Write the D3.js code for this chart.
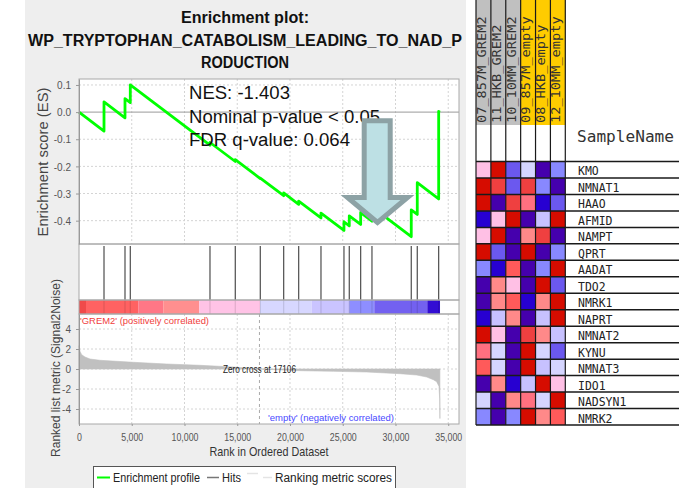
<!DOCTYPE html>
<html><head><meta charset="utf-8">
<script src="https://cdn.jsdelivr.net/npm/d3@7"></script>
<style>body{margin:0;background:#fff} svg{display:block}</style>
</head><body>
<svg id="c" width="679" height="488"></svg>
<script>
// ---------------- data ----------------
const titleLines = ["Enrichment plot:", "WP_TRYPTOPHAN_CATABOLISM_LEADING_TO_NAD_P", "RODUCTION"];
const statLines = ["NES: -1.403", "Nominal p-value < 0.05", "FDR q-value: 0.064"];
const hitRanks = [2370,4360,4862,12416,14814,17184,19402,20824,22937,25116,25619,26699,27770,31495,32064,34093];
const esBefore = [-0.070,-0.021,0.035,-0.122,-0.182,-0.245,-0.308,-0.340,-0.390,-0.436,-0.419,-0.414,-0.402,-0.459,-0.377,-0.320];
const esAfter  = [0.038,0.050,0.100,-0.112,-0.175,-0.243,-0.298,-0.328,-0.372,-0.404,-0.382,-0.370,-0.349,-0.360,-0.260,0.003];
const datasetSize = 34210;
const esTicks = [0.1,0.0,-0.1,-0.2,-0.3,-0.4];
const rankTicks = [0,5000,10000,15000,20000,25000,30000,35000];
const metricTicks = [4,2,0,-2,-4];
const metricRanks  = [0,95,253,569,1043,1991,5150,8310,11470,14630,17106,20950,24110,27270,30430,32010,32960,33590,33900,34120,34190,34210];
const metricValues = [2.33,1.77,1.43,1.2,1.0,0.87,0.67,0.5,0.37,0.2,0,-0.17,-0.23,-0.3,-0.47,-0.6,-0.8,-1.07,-1.27,-1.73,-3.0,-4.95];
const zeroCross = 17106;
const barStarts = [0,664,5621,7991,11403,17157,22058,25622,27991,33016];
const barEnd = 34220;
const barLevels = [10,9,8,7,6,5,4,3,2,1];
const palette = ["#4500ad","#2700d1","#6b58ef","#8888ff","#c7c1ff","#d5d5ff","#ffc0e5","#ff8989","#ff7080","#ff5a5a","#ef4040","#d60c00"];
const samples = ["07_857M_GREM2","11_HKB_GREM2","10_10MM_GREM2","09_857M_empty","08_HKB_empty","12_10MM_empty"];
const sampleGroups = ["GREM2","GREM2","GREM2","empty","empty","empty"];
const genes = ["KMO","NMNAT1","HAAO","AFMID","NAMPT","QPRT","AADAT","TDO2","NMRK1","NAPRT","NMNAT2","KYNU","NMNAT3","IDO1","NADSYN1","NMRK2"];
const heat = [
  [6,11,2,5,0,3],
  [11,10,2,10,3,0],
  [11,0,10,8,1,2],
  [1,6,11,0,4,11],
  [6,11,0,7,10,0],
  [11,2,0,11,0,3],
  [3,1,9,0,3,11],
  [0,7,6,0,11,2],
  [0,7,9,1,7,11],
  [1,4,7,0,4,11],
  [11,6,0,10,7,4],
  [8,5,0,11,5,2],
  [9,5,0,11,4,5],
  [0,7,1,4,11,6],
  [5,0,7,8,5,11],
  [3,0,3,11,7,9]
];
const legendItems = ["Enrichment profile","Hits","Ranking metric scores"];

// ---------------- drawing ----------------
const svg = d3.select("#c");
const SANS = "'Liberation Sans', Arial, sans-serif";
const MONO = "'DejaVu Sans Mono', monospace";
function fit(sel, len){ sel.attr("textLength", len).attr("lengthAdjust","spacingAndGlyphs"); return sel; }
function squeeze(sel, f){ sel.each(function(){ const l=this.getComputedTextLength(); d3.select(this).attr("textLength", l*f).attr("lengthAdjust","spacingAndGlyphs"); }); }

svg.append("rect").attr("x",25).attr("y",0).attr("width",441).attr("height",488).attr("fill","#eeeeee");

const x = d3.scaleLinear().domain([0,36020]).range([79,459]);
const yES = d3.scaleLinear().domain([-0.486,0.122]).range([244,79]);
const yM = d3.scaleLinear().domain([-5.5,5.5]).range([424,314]);
const L = 79, R = 459;

// title
const titleY = [23,46,68], titleLen = [128,434,88];
titleLines.forEach((t,i)=>{
  fit(svg.append("text").attr("x",245).attr("y",titleY[i]).attr("text-anchor","middle")
    .attr("font-family",SANS).attr("font-weight","bold").attr("font-size",16).attr("fill","#111").text(t), titleLen[i]);
});

// panel backgrounds
svg.append("rect").attr("x",L).attr("y",79).attr("width",R-L).attr("height",345).attr("fill","#fff");

// grid
const grid = svg.append("g").attr("stroke","#d4d4d4").attr("stroke-dasharray","2,2").attr("stroke-width",1);
rankTicks.filter(d=>d>0).forEach(d=>{
  grid.append("line").attr("x1",x(d)).attr("x2",x(d)).attr("y1",79).attr("y2",244);
  grid.append("line").attr("x1",x(d)).attr("x2",x(d)).attr("y1",314).attr("y2",424);
});
esTicks.filter(d=>d!==0).forEach(d=>{
  grid.append("line").attr("x1",L).attr("x2",R).attr("y1",yES(d)).attr("y2",yES(d));
});
metricTicks.forEach(d=>{
  grid.append("line").attr("x1",L).attr("x2",R).attr("y1",yM(d)).attr("y2",yM(d));
});
svg.append("line").attr("x1",L).attr("x2",R).attr("y1",yES(0)).attr("y2",yES(0)).attr("stroke","#999").attr("stroke-width",1);

// ranking metric area
const area = d3.area().x((d,i)=>x(metricRanks[i])).y0(yM(0)).y1((d,i)=>yM(d));
svg.append("path").datum(metricValues).attr("d",area).attr("fill","#c0c0c0").attr("stroke","#c0c0c0").attr("stroke-width",0.6);

// zero cross
svg.append("line").attr("x1",x(zeroCross)).attr("x2",x(zeroCross)).attr("y1",314).attr("y2",424)
  .attr("stroke","#aaa").attr("stroke-dasharray","3,3");
fit(svg.append("text").attr("x",x(zeroCross)).attr("y",372.5).attr("text-anchor","middle").attr("font-family",SANS)
  .attr("font-size",10).attr("fill","#222").text("Zero cross at " + zeroCross), 73);

// hits
const hitsG = svg.append("g");
hitRanks.forEach(r=>{
  hitsG.append("line").attr("x1",x(r)).attr("x2",x(r)).attr("y1",246).attr("y2",300).attr("stroke","#4d4d4d").attr("stroke-width",1.2);
});
// color bar
barStarts.forEach((s,i)=>{
  const e = i<barStarts.length-1 ? barStarts[i+1] : barEnd;
  svg.append("rect").attr("x",x(s)).attr("y",300).attr("width",x(e)-x(s)).attr("height",14).attr("fill",palette[barLevels[i]]).attr("opacity",0.95);
});
hitRanks.forEach(r=>{
  svg.append("line").attr("x1",x(r)).attr("x2",x(r)).attr("y1",300).attr("y2",314).attr("stroke","#000").attr("stroke-opacity",0.12).attr("stroke-width",1.2);
});

// ES line
const pts = [[0,0]];
hitRanks.forEach((r,i)=>{ pts.push([r,esBefore[i]]); pts.push([r,esAfter[i]]); });
pts.push([datasetSize,0]);
svg.append("path").datum(pts).attr("d",d3.line().x(d=>x(d[0])).y(d=>yES(d[1])))
  .attr("fill","none").attr("stroke","#00ff00").attr("stroke-width",2.8).attr("stroke-linejoin","round");

// panel borders
const bd = svg.append("g").attr("fill","none").attr("stroke","#a8a8a8").attr("stroke-width",1);
bd.append("rect").attr("x",L).attr("y",79).attr("width",R-L).attr("height",165);
bd.append("rect").attr("x",L).attr("y",244).attr("width",R-L).attr("height",56);
bd.append("rect").attr("x",L).attr("y",300).attr("width",R-L).attr("height",14);
bd.append("rect").attr("x",L).attr("y",314).attr("width",R-L).attr("height",110);

// axes
function styleAxis(g, f){
  g.selectAll("path,line").attr("stroke","#999");
  g.selectAll("text").attr("fill","#555").attr("font-family",SANS);
  squeeze(g.selectAll("text"), f);
}
const ay = svg.append("g").attr("transform",`translate(${L},0)`)
  .call(d3.axisLeft(yES).tickValues(esTicks).tickSize(3).tickSizeOuter(0).tickPadding(5)
    .tickFormat(d=>d3.format(".1f")(d).replace("\u2212","-")));
ay.selectAll("text").attr("font-size",11.5);
styleAxis(ay,0.87);
const am = svg.append("g").attr("transform",`translate(${L},0)`)
  .call(d3.axisLeft(yM).tickValues(metricTicks).tickSize(3).tickSizeOuter(0).tickPadding(5).tickFormat(d=>String(d)));
am.selectAll("text").attr("font-size",11.5);
styleAxis(am,0.87);
const ax = svg.append("g").attr("transform",`translate(0,424)`)
  .call(d3.axisBottom(x).tickValues(rankTicks).tickSize(2).tickSizeOuter(0).tickPadding(7).tickFormat(d3.format(",")));
ax.selectAll("text").attr("font-size",11);
styleAxis(ax,0.8);
ax.select(".domain").remove();

// axis titles
fit(svg.append("text").attr("transform","translate(48,162) rotate(-90)").attr("text-anchor","middle")
  .attr("font-family",SANS).attr("font-size",14).attr("fill","#444").text("Enrichment score (ES)"),149);
fit(svg.append("text").attr("transform","translate(60,368) rotate(-90)").attr("text-anchor","middle")
  .attr("font-family",SANS).attr("font-size",13).attr("fill","#444").text("Ranked list metric (Signal2Noise)"),178);
fit(svg.append("text").attr("x",269).attr("y",456).attr("text-anchor","middle")
  .attr("font-family",SANS).attr("font-size",13.5).attr("fill","#333").text("Rank in Ordered Dataset"),119);

// correlation labels
fit(svg.append("text").attr("x",80).attr("y",324).attr("font-family",SANS).attr("font-size",9.5)
  .attr("fill","#f03c3c").text("'GREM2' (positively correlated)"),129);
fit(svg.append("text").attr("x",268).attr("y",420.5).attr("font-family",SANS).attr("font-size",9.5)
  .attr("fill","#4a4aff").text("'empty' (negatively correlated)"),126);

// stats text
const statY = [98.5,122.5,145.5], statLen = [101,191,161];
statLines.forEach((t,i)=>{
  fit(svg.append("text").attr("x",189).attr("y",statY[i]).attr("font-family",SANS).attr("font-size",18)
    .attr("fill","#111").text(t), statLen[i]);
});

// arrow
const arrowPts = [[364.2,120.8],[390.2,120.8],[390.2,197.5],[407.5,197.5],[377.5,222.5],[347.5,197.5],[364.2,197.5]];
svg.append("path").attr("d", d3.line()(arrowPts)+"Z").attr("fill","#bde0e4").attr("stroke","#8da2a5")
  .attr("stroke-width",5).attr("stroke-linejoin","miter").attr("stroke-miterlimit",10);

// legend
const lg = svg.append("g");
lg.append("rect").attr("x",93.5).attr("y",466.5).attr("width",302).attr("height",30).attr("fill","#fff").attr("stroke","#555");
lg.append("line").attr("x1",97).attr("x2",110).attr("y1",477.5).attr("y2",477.5).attr("stroke","#00ff00").attr("stroke-width",2);
lg.append("line").attr("x1",207).attr("x2",219).attr("y1",477.5).attr("y2",477.5).attr("stroke","#777").attr("stroke-width",1.5);
lg.append("line").attr("x1",247).attr("x2",258).attr("y1",473.5).attr("y2",473.5).attr("stroke","#e4e4e4").attr("stroke-width",1.5);
lg.append("line").attr("x1",263).attr("x2",272).attr("y1",477.5).attr("y2",477.5).attr("stroke","#e4e4e4").attr("stroke-width",1.5);
const lgX = [113,222,275], lgLen = [87,19,117];
legendItems.forEach((t,i)=>{
  fit(lg.append("text").attr("x",lgX[i]).attr("y",481.5).attr("font-family",SANS).attr("font-size",12.5).attr("fill","#222").text(t), lgLen[i]);
});

// ---------------- heatmap ----------------
const hx = d3.scaleBand().domain(samples).range([476,565.3]);
const hy = d3.scaleBand().domain(genes).range([161.5,425]);
const groupColor = d3.scaleOrdinal().domain(["GREM2","empty"]).range(["#c0c0c0","#ffcc00"]);
samples.forEach((s,i)=>{
  svg.append("rect").attr("x",hx(s)).attr("y",0).attr("width",hx.bandwidth()).attr("height",125).attr("fill",groupColor(sampleGroups[i]));
  fit(svg.append("text").attr("transform",`translate(${hx(s)+hx.bandwidth()/2+2.3},123) rotate(-90)`)
    .attr("font-family",MONO).attr("font-size",11.5).attr("fill","#333").text(s), s.length*8.2);
});
heat.forEach((row,ri)=>{
  row.forEach((v,ci)=>{
    svg.append("rect").attr("x",hx(samples[ci])).attr("y",hy(genes[ri])).attr("width",hx.bandwidth()).attr("height",hy.bandwidth())
      .attr("fill",palette[v]);
  });
});
const hl = svg.append("g").attr("stroke","#1a1a1a");
hy.domain().forEach(g=>{
  hl.append("line").attr("x1",476).attr("x2",679).attr("y1",hy(g)).attr("y2",hy(g)).attr("stroke-width",1.5);
});
hl.append("line").attr("x1",476).attr("x2",679).attr("y1",425).attr("y2",425).attr("stroke-width",1.5);
samples.concat(["end"]).forEach((s,i)=>{
  const xx = 476 + i*hx.bandwidth();
  hl.append("line").attr("x1",xx).attr("x2",xx).attr("y1",0).attr("y2",425).attr("stroke-width",1.2);
});
genes.forEach(g=>{
  fit(svg.append("text").attr("x",578).attr("y",hy(g)+hy.bandwidth()-2.5).attr("font-family",MONO).attr("font-size",13)
    .attr("fill","#222").text(g), g.length*6.9);
});
fit(svg.append("text").attr("x",577).attr("y",142).attr("font-family",MONO).attr("font-size",15.5).attr("fill","#333").text("SampleName"),97);
</script>
</body></html>
